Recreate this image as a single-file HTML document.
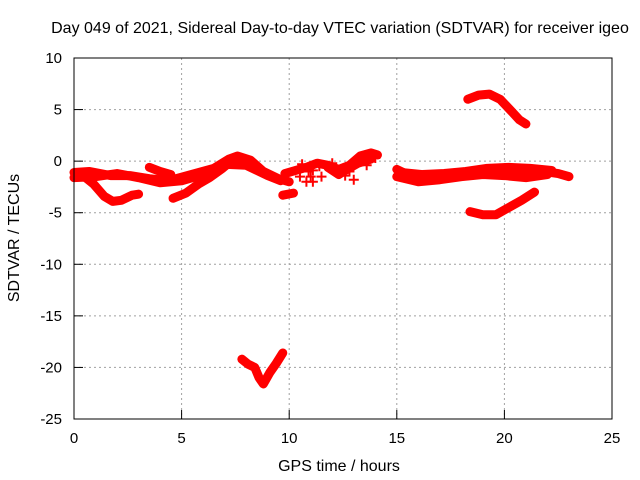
<!DOCTYPE html>
<html><head><meta charset="utf-8"><style>
body{margin:0;background:#fff}
svg{display:block;font-family:"Liberation Sans",sans-serif}
</style></head><body>
<svg id="chart" width="640" height="480">
<text x="340" y="33" text-anchor="middle" font-size="16">Day 049 of 2021, Sidereal Day-to-day VTEC variation (SDTVAR) for receiver igeo</text>
<text x="339" y="471" text-anchor="middle" font-size="16">GPS time / hours</text>
<text transform="translate(19,238) rotate(-90)" text-anchor="middle" font-size="16">SDTVAR / TECUs</text>
<g id="grid"></g><g id="marks"></g>
<rect x="74" y="58" width="538" height="361" fill="none" stroke="#000"/>
</svg>
<script>
const xTicks=[0,5,10,15,20,25];
const yTicks=[10,5,0,-5,-10,-15,-20,-25];
const trackA=[[0,-1.1],[0.7,-1.0],[1.7,-1.4],[2.6,-1.4],[3.5,-1.7],[4.4,-1.9],[5.1,-1.5],[5.8,-1.1],[6.5,-0.7],[7.2,0.2],[7.6,0.5],[8.2,0.1],[8.8,-1.0],[9.5,-1.7],[10,-2.0]];
const trackA2=[[0,-1.6],[1.0,-1.5],[2.0,-1.2],[3.0,-1.6],[4.0,-2.1],[5.0,-1.9],[6.0,-1.3],[7.0,-0.3],[8.0,-0.4],[9.0,-1.4],[9.6,-1.9]];
const trackB=[[0.3,-1.2],[0.9,-2.2],[1.4,-3.4],[1.8,-3.9],[2.2,-3.8],[2.7,-3.3],[3.0,-3.2]];
const trackC=[[4.6,-3.6],[5.2,-3.1],[5.8,-2.2],[6.3,-1.6],[6.9,-0.7],[7.3,0.0],[7.8,-0.2]];
const trackC2=[[3.5,-0.6],[4.0,-1.0],[4.5,-1.3]];
const trackD=[[9.8,-1.2],[10.3,-0.9],[10.8,-0.6],[11.3,-0.2],[11.8,-0.4],[12.3,-0.8],[12.8,-0.4],[13.3,0.5],[13.8,0.8],[14.1,0.6]];
const trackD3=[[11.8,-0.6],[12.3,-1.3],[12.6,-0.9],[13.2,-0.2],[13.8,0.2]];
const trackD2=[[9.7,-3.3],[10.2,-3.1]];
const trackE=[[15,-0.8],[15.5,-1.3],[16.5,-1.6],[17.5,-1.5],[18.5,-1.2],[19.5,-1.0],[20.5,-0.8],[21.5,-0.9],[22.5,-1.2],[23,-1.5]];
const trackE2=[[15,-1.5],[16,-2.0],[17,-1.8],[18,-1.5],[19,-1.3],[20,-1.4],[21,-1.6],[22,-1.3]];
const trackE3=[[15.2,-1.1],[16.2,-1.3],[17.2,-1.2],[18.2,-1.0],[19.2,-0.7],[20.2,-0.6],[21.2,-0.7],[22.2,-0.9]];
const trackF=[[18.3,6.0],[18.8,6.4],[19.3,6.5],[19.8,6.0],[20.3,4.9],[20.7,4.0],[21.0,3.6]];
const trackG=[[18.4,-4.9],[19.0,-5.2],[19.6,-5.2],[20.2,-4.5],[20.8,-3.8],[21.4,-3.0]];
const trackH=[[7.8,-19.2],[8.1,-19.7],[8.4,-20.0],[8.6,-21.0],[8.8,-21.6],[9.1,-20.5],[9.4,-19.6],[9.7,-18.6]];
const scatterD=[[10.5,-1.5],[10.9,-1.0],[11.1,-2.0],[11.5,-1.5],[12.0,-0.2],[12.6,-1.4],[13.0,-1.8],[12.2,-1.1],[10.6,-0.3],[11.0,-1.5],[11.4,-0.5],[10.8,-2.0],[11.1,-0.9],[12.8,-1.0],[13.4,0.0],[13.6,-0.4],[14.0,0.3]];
const tracks=[trackA,trackA2,trackB,trackC,trackC2,trackD,trackD3,trackD2,trackE,trackE2,trackE3,trackF,trackG,trackH];
const NS="http://www.w3.org/2000/svg";
const X=h=>74+h*538/25, Y=v=>58+(10-v)*361/35;
const grid=document.getElementById('grid'), marks=document.getElementById('marks');
function mk(tag,attrs,parent){const e=document.createElementNS(NS,tag);for(const k in attrs)e.setAttribute(k,attrs[k]);parent.appendChild(e);return e;}
xTicks.forEach(t=>{const x=X(t);
 if(t>0&&t<25){const g=mk('line',{x1:x,x2:x,y1:58,y2:419,stroke:'#a0a0a0','stroke-dasharray':'2,3'},grid);
 
 }
 const tk=mk('line',{x1:x,x2:x,y1:419,y2:410,stroke:'#000'},grid);
 
 
 const l=mk('text',{x:x,y:443,'text-anchor':'middle','font-size':15},grid);l.textContent=t;
 
 });
yTicks.forEach(t=>{const y=Y(t);
 if(t>-25&&t<10){const g=mk('line',{x1:74,x2:612,y1:y,y2:y,stroke:'#a0a0a0','stroke-dasharray':'2,3'},grid);
 
 }
 const tk=mk('line',{x1:74,x2:83,y1:y,y2:y,stroke:'#000'},grid);
 
 
 const l=mk('text',{x:62,y:y+5,'text-anchor':'end','font-size':15},grid);l.textContent=t;
 
 });
tracks.forEach(tr=>{const p=mk('polyline',{points:tr.map(d=>X(d[0])+','+Y(d[1])).join(' '),fill:'none',stroke:'#f00','stroke-width':9,'stroke-linejoin':'round','stroke-linecap':'round'},marks);
 
 });
scatterD.forEach(d=>{const x=X(d[0]),y=Y(d[1]);
 const p=mk('path',{d:`M${x-5},${y}H${x+5}M${x},${y-5}V${y+5}`,stroke:'#f00','stroke-width':2},marks);
 
 });
</script>
</body></html>
